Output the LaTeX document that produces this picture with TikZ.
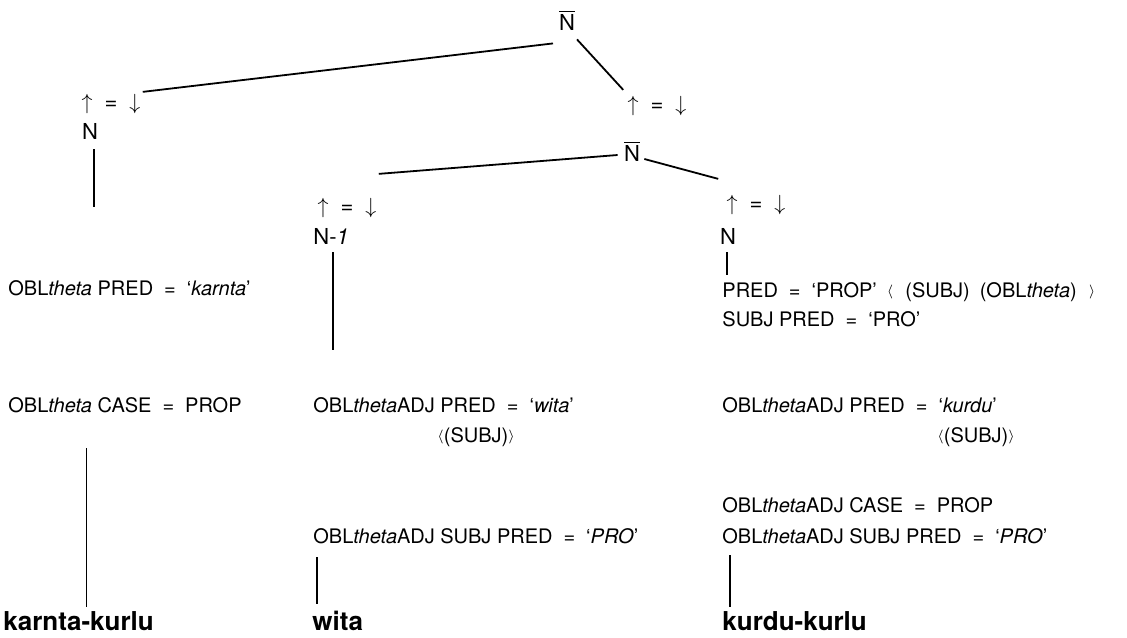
\documentclass[tikz,border=0pt]{standalone}
\usepackage{fontspec}
\setmainfont{TeX Gyre Heros}
\usepackage{tikz}
\usetikzlibrary{positioning, calc}

\newcommand{\Nbar}{$\overline{\hbox{N}}$}
\newcommand{\updown}{$\uparrow$\hspace{6pt}=\hspace{6pt}$\downarrow$}
\newcommand{\obl}{OBL\textit{theta}}
\newcommand{\eqsp}{\hspace{5.5pt}=\hspace{5.5pt}}
\newcommand{\lang}{{\fontsize{7.5}{9}\selectfont\raisebox{0.6pt}{$\langle$}}}
\newcommand{\rang}{{\fontsize{7.5}{9}\selectfont\raisebox{0.6pt}{$\rangle$}}}

\begin{document}
\begin{tikzpicture}[
    x=0.5pt, y=-0.5pt,
    cat/.style={inner sep=1pt, font=\fontsize{11}{13}\selectfont},
    feat/.style={inner sep=0pt, anchor=base west, font=\fontsize{10}{12}\selectfont},
    wrd/.style={inner sep=0pt, anchor=base west, font=\fontsize{13}{15}\selectfont\bfseries},
    tak/.style={line width=0.9pt},
    tegak/.style={line width=0.8pt},
    tipis/.style={line width=0.5pt}
  ]
    \useasboundingbox (0,0) rectangle (1127,637);
    % categories
    \node[cat] (root) at (567,20) {\Nbar};
    \node[cat] (eqL) at (111,104) {\updown};
    \node[cat] (nL) at (90,131) {N};
    \node[cat] (eqM) at (657,106) {\updown};
    \node[cat] (nM) at (632,151) {\Nbar};
    \node[cat] (eqML) at (347,208) {\updown};
    \node[cat, anchor=west] (nML) at (311,236) {N-\textit{1}};
    \node[cat] (eqMR) at (756,205) {\updown};
    \node[cat] (nMR) at (728,236) {N};
    % feature equations
    \node[feat] (predL) at (8,295) {\obl\ PRED\eqsp`\textit{karnta}'};
    \node[feat] (caseL) at (8,412) {\obl\ CASE\eqsp PROP};
    \node[feat] (predM) at (313,412) {\obl ADJ PRED\eqsp`\textit{wita}'};
    \node[feat] (argM) at (437,442) {\lang(SUBJ)\rang};
    \node[feat] (subjM) at (313,543) {\obl ADJ SUBJ PRED\eqsp`\textit{PRO}'};
    \node[feat] (predR) at (722,297) {PRED\eqsp`PROP'\hspace{5pt}\lang\hspace{6pt}(SUBJ)\hspace{5pt}(\obl)\hspace{6pt}\rang};
    \node[feat] (proR) at (722,326) {SUBJ PRED\eqsp`PRO'};
    \node[feat] (adjR) at (722,412) {\obl ADJ PRED\eqsp`\textit{kurdu}'};
    \node[feat] (argR) at (937,442) {\lang(SUBJ)\rang};
    \node[feat] (caseR) at (722,512) {\obl ADJ CASE\eqsp PROP};
    \node[feat] (subjR) at (722,543) {\obl ADJ SUBJ PRED\eqsp`\textit{PRO}'};
    % words
    \node[wrd] (karnta) at (3,630) {karnta-kurlu};
    \node[wrd] (wita) at (312,630) {wita};
    \node[wrd] (kurdu) at (722,630) {kurdu-kurlu};
    % free ends
    \coordinate (endL) at (94,207);
    \coordinate (endML) at (333,350);
    \coordinate (endMR) at (727,275);
    % branches
    \draw[tak] ($(root.south)+(-14,11)$) -- (eqL.north east);
    \draw[tak] ($(root.south)+(10,7)$) -- ($(eqM.north west)+(-2,-4)$);
    \draw[tak] ($(nM.west)+(-4,4)$) -- ($(eqML.north east)+(0,-22)$);
    \draw[tak] ($(nM.east)+(2,8)$) -- ($(eqMR.north west)+(-6,-14)$);
    \draw[tegak] ([yshift=-4pt]nL.south -| endL) -- (endL);
    \draw[tegak] ([yshift=-3pt]nML.south -| endML) -- (endML);
    \draw[tegak] ([yshift=-3pt]nMR.south -| endMR) -- (endMR);
    \draw[tipis] ([yshift=-18pt]caseL.base -| 86,0) -- ([yshift=2pt]karnta.north -| 86,0);
    \draw[tegak] ([yshift=-7pt]subjM.base -| 317,0) -- ([yshift=3pt]wita.north -| 317,0);
    \draw[tegak] ([yshift=-6pt]subjR.base -| 730,0) -- ([yshift=2pt]kurdu.north -| 730,0);
  \end{tikzpicture}
\end{document}
